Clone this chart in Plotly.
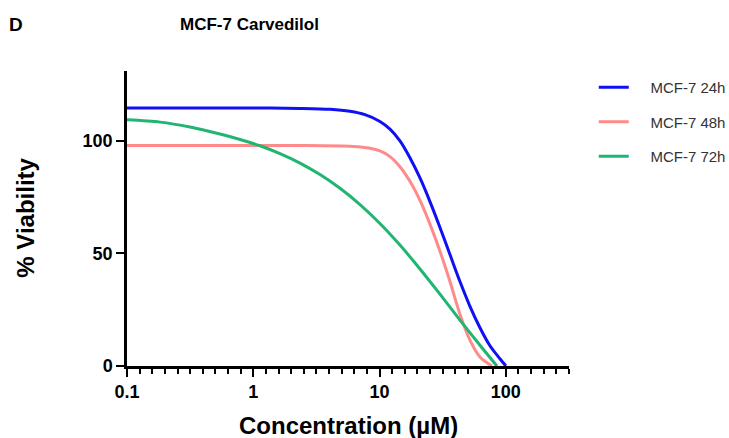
import plotly.graph_objects as go

# Concentration (µM) and % viability
conc_24h = [0.1, 1.0, 2.34, 4.05, 5.83, 7.66, 10.07, 12.09, 14.50, 17.40, 20.89, 25.06, 30.08, 36.09, 43.31, 51.96, 62.36, 74.83, 89.80, 100.0]
via_24h = [114.6, 114.6, 114.4, 114.0, 113.1, 111.6, 108.6, 105.2, 100.0, 92.5, 83.5, 73.0, 61.5, 49.5, 37.5, 26.5, 17.0, 9.0, 3.2, 0.0]

conc_48h = [0.1, 1.0, 2.34, 6.16, 8.39, 10.07, 12.09, 14.50, 17.40, 20.89, 25.06, 30.08, 36.09, 43.31, 51.96, 62.36, 77.6]
via_48h = [97.9, 97.9, 97.9, 97.5, 96.7, 95.5, 93.0, 88.5, 82.0, 73.5, 63.0, 51.0, 37.5, 23.0, 11.5, 4.0, 0.0]

conc_72h = [0.1, 0.1825, 0.3154, 0.5447, 0.7848, 1.130, 1.627, 2.343, 3.375, 4.859, 6.998, 10.07, 14.50, 20.89, 30.08, 43.31, 62.36, 85.0]
via_72h = [109.3, 108.3, 106.1, 103.0, 100.6, 97.8, 94.3, 90.1, 85.0, 78.9, 71.7, 63.3, 53.7, 43.1, 31.9, 20.4, 9.2, 0.0]

series_names = ["MCF-7 24h", "MCF-7 48h", "MCF-7 72h"]
series_colors = ["#1010F5", "#FF8A8A", "#20B573"]

x_tickvals = [0.1, 1, 10, 100]
x_ticktext = ["0.1", "1", "10", "100"]
y_tickvals = [0, 50, 100]

FONT = "Liberation Sans, Arial, sans-serif"

fig = go.Figure()
for i, (xs, ys) in enumerate([(conc_24h, via_24h), (conc_48h, via_48h), (conc_72h, via_72h)]):
    fig.add_trace(go.Scatter(
        x=xs, y=ys, mode="lines", name="\u00a0\u00a0\u00a0\u00a0" + series_names[i],
        legendgroup=f"g{i}",
        line=dict(color=series_colors[i], width=3, shape="spline", smoothing=0.8),
        cliponaxis=False,
    ))

fig.update_layout(
    width=729, height=438,
    margin=dict(l=127, r=160, t=71, b=72, autoexpand=False),
    paper_bgcolor="white", plot_bgcolor="white",
    showlegend=True,
    legend=dict(x=1.056, y=1.0, xanchor="left", yanchor="top",
                font=dict(family=FONT, size=15, color="#333333"),
                tracegroupgap=12, bgcolor="rgba(0,0,0,0)", borderwidth=0),
    xaxis=dict(type="log", range=[-1, 2.5], showgrid=False, zeroline=False,
               showline=True, linecolor="black", linewidth=2.5,
               ticks="outside", ticklen=8, tickwidth=2, tickcolor="black",
               tickvals=x_tickvals, ticktext=[f"<b>{t}</b>" for t in x_ticktext],
               tickfont=dict(family=FONT, size=18, color="black"), automargin=False,
               minor=dict(ticks="outside", dtick=0.1, tick0=0, ticklen=5, tickwidth=1.5, tickcolor="black", showgrid=False)),
    yaxis=dict(range=[0, 131], showgrid=False, zeroline=False,
               showline=True, linecolor="black", linewidth=2.5,
               ticks="outside", ticklen=8, tickwidth=2, tickcolor="black",
               tickvals=y_tickvals, ticktext=[f"<b>{t}</b>" for t in y_tickvals],
               tickfont=dict(family=FONT, size=18, color="black"), automargin=False),
    annotations=[
        dict(text="<b>MCF-7 Carvedilol</b>", x=0.278, y=1.156, xref="paper", yref="paper",
             showarrow=False, font=dict(family=FONT, size=17, color="black"), xanchor="center", yanchor="middle"),
        dict(text="<b>D</b>", x=-0.251, y=1.156, xref="paper", yref="paper",
             showarrow=False, font=dict(family=FONT, size=19, color="black"), xanchor="center", yanchor="middle"),
        dict(text="<b>Concentration (\u00b5M)</b>", x=0.502, y=-0.2, xref="paper", yref="paper",
             showarrow=False, font=dict(family=FONT, size=24, color="black"), xanchor="center", yanchor="middle"),
        dict(text="<b>% Viability</b>", x=-0.229, y=0.502, xref="paper", yref="paper", textangle=-90,
             showarrow=False, font=dict(family=FONT, size=24, color="black"), xanchor="center", yanchor="middle"),
    ],
)

fig.write_html("out.html", config={"displayModeBar": False},
               post_script="document.body.style.margin='0';")
